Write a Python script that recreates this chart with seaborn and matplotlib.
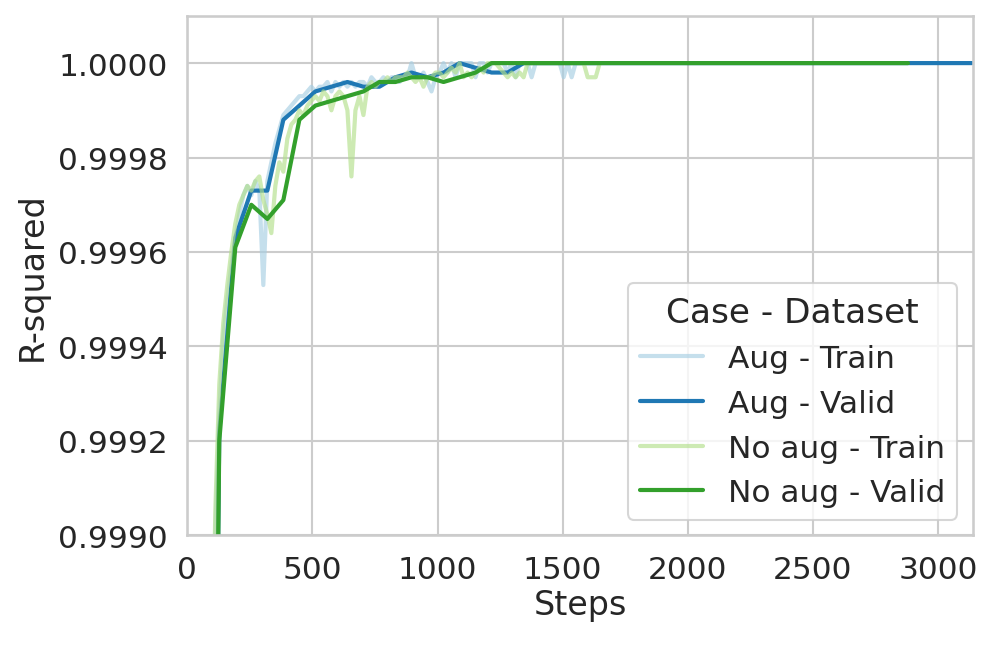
import numpy as np
import pandas as pd
import seaborn as sns
import matplotlib
matplotlib.use("Agg")
import matplotlib.pyplot as plt
from matplotlib.ticker import FormatStrFormatter

# ---------------------------------------------------------------------------
# data read off the reference (train logged every 16 steps, valid every 64)
train_start = 96
train_every = 16
valid_every = 64

aug_train = [
    0.99850, 0.99900, 0.99926, 0.99942, 0.99950, 0.99957, 0.99963, 0.99968,
    0.99972, 0.99974, 0.99972, 0.99975, 0.99973, 0.99953, 0.99975, 0.99979,
    0.99983, 0.99986, 0.99989, 0.99990, 0.99991, 0.99992, 0.99993, 0.99993,
    0.99994, 0.99995, 0.99994, 0.99995, 0.99995, 0.99996, 0.99994, 0.99996,
    0.99995, 0.99996, 0.99995, 0.99996, 0.99995, 0.99996, 0.99996, 0.99995,
    0.99997, 0.99996, 0.99996, 0.99997, 0.99996, 0.99997, 0.99997, 0.99996,
    0.99997, 0.99997, 1.00000, 0.99997, 0.99997, 0.99998, 0.99996, 0.99994,
    0.99997, 0.99998, 1.00000, 0.99998, 1.00000, 0.99997, 1.00000, 1.00000,
    1.00000, 1.00000, 0.99997, 1.00000, 1.00000, 0.99998, 1.00000, 1.00000,
    1.00000, 1.00000, 0.99998, 1.00000, 0.99997, 1.00000, 1.00000, 1.00000,
    0.99997, 1.00000, 1.00000, 1.00000, 1.00000, 1.00000, 1.00000, 1.00000,
    0.99997, 1.00000, 0.99997, 1.00000, 1.00000, 1.00000, 1.00000, 1.00000,
    1.00000, 1.00000,
]

noaug_train = [
    0.99855, 0.99905, 0.99932, 0.99945, 0.99953, 0.99960, 0.99966, 0.99970,
    0.99972, 0.99974, 0.99973, 0.99975, 0.99976, 0.99971, 0.99968, 0.99964,
    0.99974, 0.99979, 0.99977, 0.99984, 0.99987, 0.99988, 0.99990, 0.99989,
    0.99991, 0.99992, 0.99993, 0.99992, 0.99994, 0.99993, 0.99990, 0.99993,
    0.99994, 0.99993, 0.99990, 0.99976, 0.99990, 0.99993, 0.99989, 0.99995,
    0.99996, 0.99995, 0.99996, 0.99996, 0.99997, 0.99996, 0.99997, 0.99997,
    0.99997, 0.99998, 0.99997, 0.99996, 0.99997, 0.99995, 0.99997, 0.99997,
    0.99998, 0.99998, 0.99997, 0.99998, 0.99999, 0.99998, 1.00000, 0.99997,
    0.99998, 0.99997, 0.99998, 0.99999, 0.99998, 1.00000, 1.00000, 1.00000,
    0.99999, 0.99998, 0.99997, 0.99998, 0.99997, 0.99998, 0.99997, 1.00000,
    1.00000, 1.00000, 1.00000, 1.00000, 1.00000, 1.00000, 1.00000, 1.00000,
    1.00000, 1.00000, 1.00000, 1.00000, 1.00000, 1.00000, 0.99997, 0.99997,
    0.99997, 1.00000,
]

aug_valid = [
    0.99600, 0.99922, 0.99963, 0.99973, 0.99973, 0.99988, 0.99991, 0.99994,
    0.99995, 0.99996, 0.99995, 0.99995, 0.99997, 0.99998, 0.99997, 0.99998,
    1.00000, 0.99999, 0.99998, 0.99998, 1.00000, 1.00000, 1.00000, 1.00000,
    1.00000, 1.00000, 1.00000, 1.00000, 1.00000, 1.00000, 1.00000, 1.00000,
    1.00000, 1.00000, 1.00000, 1.00000, 1.00000, 1.00000, 1.00000, 1.00000,
    1.00000, 1.00000, 1.00000, 1.00000, 1.00000, 1.00000, 1.00000, 1.00000,
    1.00000,
]

noaug_valid = [
    0.99600, 0.99920, 0.99961, 0.99970, 0.99967, 0.99971, 0.99988, 0.99991,
    0.99992, 0.99993, 0.99994, 0.99996, 0.99996, 0.99997, 0.99997, 0.99996,
    0.99997, 0.99998, 1.00000, 1.00000, 1.00000, 1.00000, 1.00000, 1.00000,
    1.00000, 1.00000, 1.00000, 1.00000, 1.00000, 1.00000, 1.00000, 1.00000,
    1.00000, 1.00000, 1.00000, 1.00000, 1.00000, 1.00000, 1.00000, 1.00000,
    1.00000, 1.00000, 1.00000, 1.00000, 1.00000,
]

labels = ["Aug - Train", "Aug - Valid", "No aug - Train", "No aug - Valid"]

# =============================================================================

def frame(vals, start, every, label):
    steps = start + every * np.arange(len(vals))
    return pd.DataFrame({"Steps": steps, "R-squared": vals, "Case - Dataset": label})

data = pd.concat([
    frame(aug_train, train_start, train_every, labels[0]),
    frame(aug_valid, valid_every, valid_every, labels[1]),
    frame(noaug_train, train_start, train_every, labels[2]),
    frame(noaug_valid, valid_every, valid_every, labels[3]),
], ignore_index=True)

# =============================================================================

sns.set_theme(style="whitegrid")
fig, ax = plt.subplots(figsize=(6.64, 4.313), dpi=150)
fig.subplots_adjust(left=0.188, right=0.977, top=0.974, bottom=0.171)

sns.lineplot(data=data, x="Steps", y="R-squared", hue="Case - Dataset",
             hue_order=labels, palette="Paired", estimator=None,
             linewidth=2.0, ax=ax)

# lighter, see-through train curves
for i in (0, 2):
    ax.lines[i].set_alpha(0.65)

ax.set_xlim(0, 3140)
ax.set_ylim(0.9990, 1.0001)
ax.set_yticks(np.arange(0.9990, 1.00001, 0.0002))
ax.yaxis.set_major_formatter(FormatStrFormatter("%.4f"))
ax.tick_params(labelsize=15)
ax.set_xlabel("Steps", fontsize=16, labelpad=2)
ax.set_ylabel("R-squared", fontsize=16)

leg = ax.legend(title="Case - Dataset", loc="lower right", fontsize=15,
                title_fontsize=16.5)
for i, h in enumerate(leg.get_lines()):
    h.set_linewidth(2.0)
    if i in (0, 2):
        h.set_alpha(0.65)

fig.savefig("out.png", dpi=150)
